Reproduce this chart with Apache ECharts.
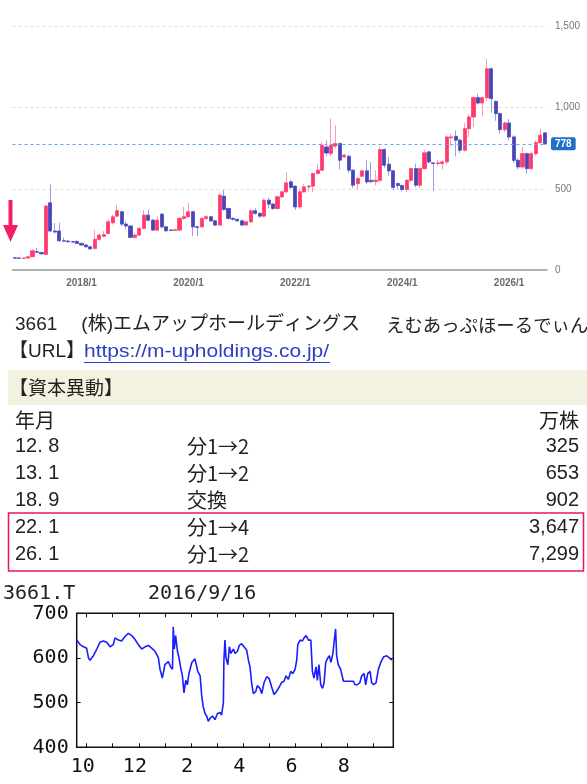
<!DOCTYPE html>
<html><head><meta charset="utf-8">
<script src="https://cdn.jsdelivr.net/npm/echarts@6/dist/echarts.min.js"></script>
<style>html,body{margin:0;padding:0;background:#fff;}#c{width:587px;height:784px;}</style>
</head><body><div id="c"></div>
<script>
// ---------- monthly candles (adjusted), 2016/10 .. 2026/9 ----------
const startYear = 2016, startMonth = 10, monthCount = 120;
const opens  = [76,74,72,74,82,113,108,96,414,240,240,180,178,174,176,164,154,143,133,189,
 208,225,291,332,359,283,271,201,215,256,338,307,246,344,266,246,244,246,318,328,
 359,266,266,318,328,303,277,455,379,318,312,303,277,297,365,349,332,430,406,379,
 451,482,543,517,389,482,512,517,595,615,758,717,763,779,697,701,615,533,578,611,
 553,545,553,742,652,611,533,521,496,553,625,523,625,728,660,656,656,666,815,824,
 800,738,871,943,1062,1029,1062,1240,1039,964,865,906,820,676,635,717,625,717,785,845];
const closes = [73,72,74,82,118,110,100,394,240,234,180,178,174,172,164,154,143,130,189,215,
 218,297,328,365,283,271,201,215,256,338,307,246,307,266,242,244,248,318,328,359,
 266,262,318,328,303,277,461,373,318,312,303,277,297,365,349,332,430,406,379,451,
 482,537,509,389,482,512,517,595,615,769,721,769,779,677,707,615,523,564,611,543,
 545,553,742,646,611,509,521,496,553,625,523,625,722,666,656,660,666,820,820,800,
 738,871,943,1062,1029,1062,1240,1056,964,865,906,820,676,635,717,625,717,785,830,778];
const highs  = [78,76,77,85,130,135,112,400,528,289,291,200,185,180,182,168,160,148,246,225,
 240,310,340,400,365,300,275,230,270,369,372,315,330,350,272,252,255,325,389,412,
 365,275,325,340,335,310,470,492,385,325,318,310,305,375,380,355,440,445,415,460,
 490,605,555,520,500,530,525,600,650,790,800,933,892,785,715,710,620,575,620,677,
 666,615,760,750,697,615,540,525,560,630,655,630,740,735,665,680,680,830,840,860,
 810,905,960,1070,1085,1070,1302,1250,1045,970,915,930,830,690,760,725,730,800,871,850];
const lows   = [71,70,70,72,80,105,95,92,235,225,175,172,170,166,160,148,138,125,128,180,
 200,220,280,325,270,250,195,195,210,250,300,240,240,255,235,240,240,240,310,320,
 209,209,260,310,295,270,275,365,310,305,295,270,270,290,340,320,325,380,370,370,
 445,470,500,370,375,475,480,480,590,610,700,700,750,620,690,600,505,495,570,530,
 535,520,540,630,580,490,500,485,480,540,510,505,620,655,488,640,620,650,760,700,
 720,730,820,880,1020,950,1040,970,920,840,850,800,660,620,625,595,615,705,775,770];
const priceTicks = [0, 500, 1000, 1500];
const lastPrice = 778;

// ---------- text block ----------
const headerCode = '3661';
const headerName = '(株)エムアップホールディングス';
const headerKana = 'えむあっぷほーるでぃんぐす';
const urlLabel = '【URL】';
const urlText = 'https://m-upholdings.co.jp/';
const sectionTitle = '【資本異動】';
const colHeads = ['年月', '万株'];
const capYM = ['12. 8', '13. 1', '18. 9', '22. 1', '26. 1'];
const capEvent = ['分1→2', '分1→2', '交換', '分1→4', '分1→2'];
const capShares = ['325', '653', '902', '3,647', '7,299'];

// ---------- daily line 2015/9 .. 2016/9 (x = month position, 10 = Oct 2015, 13 = Jan 2016) ----------
const dayPos = [9.62,9.75,9.88,10.00,10.07,10.13,10.26,10.39,10.51,10.64,10.77,10.90,11.02,11.09,11.22,11.34,11.47,11.60,11.73,11.85,
 11.98,12.11,12.24,12.37,12.49,12.62,12.75,12.81,12.90,13.00,13.13,13.22,13.29,13.32,13.36,13.41,13.48,13.54,13.60,13.67,
 13.73,13.80,13.86,13.92,14.03,14.15,14.22,14.26,14.35,14.41,14.47,14.54,14.60,14.66,14.73,14.82,14.92,15.01,15.11,15.17,
 15.24,15.26,15.30,15.34,15.41,15.47,15.53,15.62,15.69,15.78,15.85,15.94,16.03,16.13,16.20,16.26,16.32,16.39,16.48,16.54,
 16.64,16.71,16.80,16.90,17.00,17.09,17.18,17.28,17.38,17.47,17.56,17.64,17.73,17.82,17.90,17.99,18.05,18.09,18.18,18.27,
 18.33,18.41,18.50,18.59,18.65,18.71,18.79,18.84,18.90,18.97,19.04,19.10,19.16,19.24,19.30,19.36,19.43,19.49,19.54,19.58,
 19.64,19.73,19.84,19.96,20.09,20.22,20.28,20.37,20.47,20.54,20.63,20.69,20.77,20.86,20.92,20.99,21.09,21.18,21.27,21.37,
 21.50,21.60,21.69];
const dayPrice = [640,630,625,622,600,595,605,620,635,638,635,625,630,645,640,638,648,655,650,642,
 630,620,625,628,622,615,600,575,555,585,592,580,575,670,620,650,615,600,580,560,
 522,550,540,565,590,598,600,570,560,515,490,475,470,458,465,470,462,475,478,472,
 500,595,640,600,585,625,610,620,610,615,628,632,625,618,595,580,545,520,525,538,
 532,520,545,558,553,535,518,525,535,545,548,560,552,570,565,575,595,630,640,638,
 645,650,640,640,570,555,580,550,585,540,532,545,590,600,605,590,608,640,665,605,
 585,575,548,548,548,548,540,540,545,560,565,540,565,570,545,540,545,575,590,602,
 605,600,595];
const miniTicker = '3661.T';
const miniDate = '2016/9/16';
const miniYTicks = [400, 500, 600, 700];
const miniXLabels = [10, 12, 14, 16, 18, 20];
const miniMonthTicks = [10,11,12,13,14,15,16,17,18,19,20,21];

// ---------- build ----------
const categories = [];
for (let k = 0; k < monthCount; k++) {
  const t = startYear * 12 + (startMonth - 1) + k;
  categories.push(Math.floor(t / 12) + '/' + (t % 12 + 1));
}
const candleFull = opens.map((o, i) => [o, closes[i], lows[i], highs[i]]);
const candleBody = opens.map((o, i) => [o, closes[i], Math.min(o, closes[i]), Math.max(o, closes[i])]);
const lineData = dayPos.map((x, i) => [x, dayPrice[i]]);

const JP = "'Liberation Sans','Noto Sans CJK JP',sans-serif";
const CJK = "'Noto Sans CJK JP',sans-serif";
const MONO = "'DejaVu Sans Mono','Liberation Mono',monospace";
const txtColor = '#222';

const graphic = [];
// red down arrow
graphic.push({type:'rect', shape:{x:8.5, y:200, width:4, height:28}, style:{fill:'#f31f62'}});
graphic.push({type:'polygon', shape:{points:[[3,225],[18,225],[10.5,242]]}, style:{fill:'#f31f62'}});
// header
graphic.push({type:'text', x:15, y:325, style:{text: headerCode, font:'19px ' + JP, fill:txtColor, verticalAlign:'middle'}});
graphic.push({type:'text', x:360, y:325, style:{text: headerName, font:'19px ' + JP, fill:txtColor, verticalAlign:'middle', align:'right'}});
graphic.push({type:'text', x:386, y:325, style:{text: headerKana, font:'18.4px ' + CJK, fill:txtColor, verticalAlign:'middle'}});
graphic.push({type:'text', x:9, y:352, style:{text:urlLabel, font:'19px ' + JP, fill:txtColor, verticalAlign:'middle'}});
graphic.push({type:'text', x:84, y:352, scaleX:1.105, style:{text:urlText, font:'19px ' + JP, fill:'#2b3fc9', verticalAlign:'middle'}});
graphic.push({type:'line', shape:{x1:84, y1:362.5, x2:330, y2:362.5}, style:{stroke:'#2b3fc9', lineWidth:1}});
// section band
graphic.push({type:'rect', shape:{x:8, y:370, width:579, height:35}, style:{fill:'#f3f1df'}});
graphic.push({type:'text', x:9, y:388, style:{text:sectionTitle, font:'19px ' + CJK, fill:txtColor, verticalAlign:'middle'}});
graphic.push({type:'text', x:15, y:420, style:{text:colHeads[0], font:'20px ' + CJK, fill:txtColor, verticalAlign:'middle'}});
graphic.push({type:'text', x:579, y:420, style:{text:colHeads[1], font:'20px ' + CJK, fill:txtColor, verticalAlign:'middle', align:'right'}});
capYM.forEach((ym, i) => {
  const y = 446 + i * 27.2;
  graphic.push({type:'text', x:15, y:y, style:{text:ym, font:'20px ' + JP, fill:txtColor, verticalAlign:'middle'}});
  graphic.push({type:'text', x:187, y:y, style:{text:capEvent[i], font:'20px ' + CJK, fill:txtColor, verticalAlign:'middle'}});
  graphic.push({type:'text', x:579, y:y, style:{text:capShares[i], font:'20px ' + JP, fill:txtColor, verticalAlign:'middle', align:'right'}});
});
graphic.push({type:'rect', shape:{x:8.5, y:513, width:575, height:58}, style:{fill:'none', stroke:'#e8185a', lineWidth:1.5}});
// mini chart titles
graphic.push({type:'text', x:3, y:594, style:{text:miniTicker, font:'20px ' + MONO, fill:'#222', verticalAlign:'middle'}});
graphic.push({type:'text', x:148, y:594, style:{text:miniDate, font:'20px ' + MONO, fill:'#222', verticalAlign:'middle'}});

const miniLabelStyle = {fontFamily:"'DejaVu Sans Mono','Liberation Mono',monospace", fontSize:20, color:'#111'};

const option = {
  animation: false,
  backgroundColor: '#fff',
  graphic: graphic,
  grid: [
    {left: 12.5, right: 40, top: 26.6, bottom: 514},
    {left: 76.7, right: 193.7, top: 613.3, bottom: 36.7, show: true, borderColor: '#111', borderWidth: 1.5}
  ],
  xAxis: [
    {type:'category', gridIndex:0, data:categories, boundaryGap:true,
     axisLine:{lineStyle:{color:'#9a9a9a', width:1.5}}, axisTick:{show:false},
     axisLabel:{interval:(idx, val) => { const p = val.split('/'); return p[1] === '1' && (+p[0]) % 2 === 0; },
       fontSize:10, fontWeight:'bold', color:'#6b6b6b', margin:8}},
    {type:'value', gridIndex:1, min:9.62, max:21.75, position:'bottom',
     axisLine:{show:false}, splitLine:{show:false},
     axisTick:{show:true, inside:true, length:4, lineStyle:{color:'#111'}, customValues:miniMonthTicks},
     axisLabel:Object.assign({customValues:miniXLabels.map(v => v - 0.15), formatter:v => String((Math.round(v) - 1) % 12 + 1), margin:9}, miniLabelStyle)},
    {type:'value', gridIndex:1, min:9.62, max:21.75, position:'top',
     axisLine:{show:false}, splitLine:{show:false}, axisLabel:{show:false},
     axisTick:{show:true, inside:true, length:4, lineStyle:{color:'#111'}, customValues:miniMonthTicks}}
  ],
  yAxis: [
    {type:'value', gridIndex:0, position:'right', min:priceTicks[0], max:priceTicks[priceTicks.length-1], interval:500,
     axisLine:{show:false}, axisTick:{show:false},
     splitLine:{show:true, lineStyle:{type:[3,3], color:'#dedede'}},
     axisLabel:{fontSize:10, color:'#777', margin:8, formatter:v => v.toLocaleString('en-US')}},
    {type:'value', gridIndex:1, position:'left', min:miniYTicks[0], max:miniYTicks[miniYTicks.length-1], interval:100,
     axisLine:{show:false}, splitLine:{show:false},
     axisTick:{show:true, inside:true, length:4, lineStyle:{color:'#111'}},
     axisLabel:Object.assign({margin:8}, miniLabelStyle)},
    {type:'value', gridIndex:1, position:'right', min:miniYTicks[0], max:miniYTicks[miniYTicks.length-1], interval:100,
     axisLine:{show:false}, splitLine:{show:false}, axisLabel:{show:false},
     axisTick:{show:true, inside:true, length:4, lineStyle:{color:'#111'}}}
  ],
  series: [
    {type:'candlestick', xAxisIndex:0, yAxisIndex:0, data:candleFull, barWidth:3.6,
     itemStyle:{color:'#ffa3bb', color0:'#a3a3e8', borderColor:'#ff9ab4', borderColor0:'#9c9ce4', borderWidth:1},
     markLine:{symbol:'none', silent:true,
       lineStyle:{type:[3,3], color:'#62a8ee', width:1},
       label:{position:'end', distance:4, formatter:String(lastPrice), color:'#fff', backgroundColor:'#1f6fc6',
              padding:[2,4,1,4], borderRadius:2, fontSize:10, fontWeight:'bold'},
       data:[{yAxis:lastPrice}]}},
    {type:'candlestick', xAxisIndex:0, yAxisIndex:0, data:candleBody, barWidth:3.6,
     itemStyle:{color:'#ff3a6e', color0:'#4646b6', borderColor:'#ff3a6e', borderColor0:'#4646b6', borderWidth:0.5}},
    {type:'line', xAxisIndex:1, yAxisIndex:1, data:lineData, showSymbol:false,
     lineStyle:{color:'#1c1cff', width:1.6}}
  ]
};
const chart = echarts.init(document.getElementById('c'), null, {renderer:'canvas'});
chart.setOption(option);
</script></body></html>
